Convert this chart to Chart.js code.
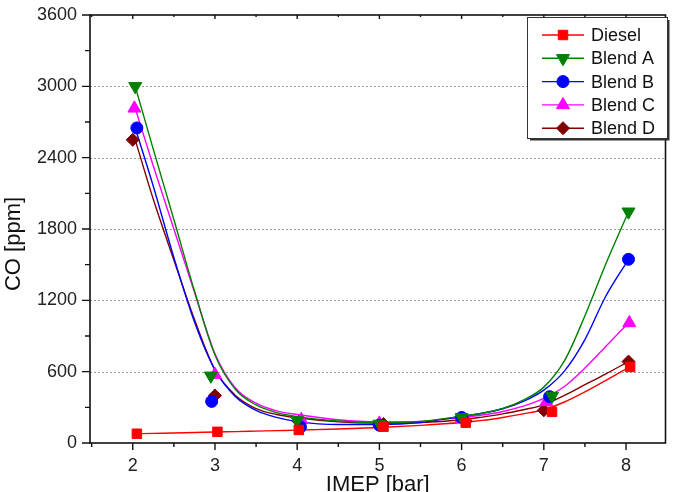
<!DOCTYPE html>
<html>
<head>
<meta charset="utf-8">
<script src="https://cdn.jsdelivr.net/npm/chart.js@4.4.0/dist/chart.umd.min.js"></script>
<style>
html,body{margin:0;padding:0;background:#fff;}
canvas{display:block;}
</style>
</head>
<body>
<canvas id="c" width="674" height="492" style="width:674px;height:492px"></canvas>
<script>
// ---- tick values ----
const xTicks = [2, 3, 4, 5, 6, 7, 8];
const yTicks = [0, 600, 1200, 1800, 2400, 3000, 3600];
const xMinorTicks = [1.5, 2.5, 3.5, 4.5, 5.5, 6.5, 7.5];
const yMinorTicks = [300, 900, 1500, 2100, 2700, 3300];
const gridValues = [600, 1200, 1800, 2400, 3000];

// ---- measured points (markers) ----
const seriesNames = ['Diesel', 'Blend A', 'Blend B', 'Blend C', 'Blend D'];
const dieselX = [2.05, 3.03, 4.02, 5.05, 6.05, 7.1, 8.05];
const dieselY = [78, 94, 110, 137, 171, 262, 640];
const blendAX = [2.03, 2.95, 4.0, 5.0, 6.0, 7.1, 8.03];
const blendAY = [3000, 565, 190, 160, 215, 395, 1945];
const blendBX = [2.05, 2.96, 4.04, 5.0, 6.0, 7.07, 8.03];
const blendBY = [2650, 350, 135, 150, 215, 390, 1545];
const blendCX = [2.02, 3.0, 4.05, 5.0, 6.0, 7.03, 8.04];
const blendCY = [2815, 575, 195, 165, 205, 345, 1010];
const blendDX = [2.0, 3.0, 4.02, 5.05, 6.05, 7.0, 8.03];
const blendDY = [2550, 400, 180, 160, 185, 275, 685];

// ---- fitted curves ----
const curveX      = [2.03, 2.25, 2.5, 2.75, 3.0, 3.25, 3.5, 3.75, 4.0, 4.5, 5.0, 5.5, 6.0, 6.25, 6.5, 6.75, 7.0, 7.25, 7.5, 7.75, 8.03];
const dieselCurve = [78, 81, 84, 88, 93, 96, 100, 104, 108, 118, 130, 148, 172, 190, 215, 245, 280, 345, 430, 525, 635];
const blendACurve = [3000, 2470, 1880, 1280, 740, 450, 320, 255, 222, 185, 172, 182, 225, 250, 290, 360, 470, 690, 1070, 1500, 1945];
const blendBCurve = [2650, 2160, 1560, 1020, 615, 390, 275, 215, 180, 155, 155, 172, 225, 250, 288, 350, 445, 605, 870, 1230, 1545];
const blendCCurve = [2815, 2330, 1800, 1270, 750, 460, 335, 270, 240, 195, 178, 182, 215, 235, 265, 310, 375, 475, 630, 810, 1010];
const blendDCurve = [2550, 2050, 1540, 1040, 615, 400, 290, 240, 212, 178, 168, 172, 195, 218, 245, 280, 320, 400, 490, 580, 685];

const FONT = '"Liberation Sans", Arial, sans-serif';
const colors = ['#ff0000', '#008000', '#0000ff', '#ff00ff', '#800000'];
const styles = ['rect', 'triangle', 'circle', 'triangle', 'rectRot'];
const rotations = [0, 180, 0, 0, 0];
const radii = [6.7, 7.5, 6, 7.5, 6.5];

const markerX = [dieselX, blendAX, blendBX, blendCX, blendDX];
const markerY = [dieselY, blendAY, blendBY, blendCY, blendDY];
const curves = [dieselCurve, blendACurve, blendBCurve, blendCCurve, blendDCurve];

const pts = (xs, ys) => xs.map((x, i) => ({x: x, y: ys[i]}));

const datasets = [];
for (let i = 0; i < 5; i++) {
  datasets.push({
    label: seriesNames[i] + ' fit',
    data: pts(curveX, curves[i]),
    showLine: true,
    borderColor: colors[i],
    borderWidth: 1.4,
    pointRadius: 0,
    fill: false,
    cubicInterpolationMode: 'monotone',
    order: 2
  });
}
for (let i = 0; i < 5; i++) {
  datasets.push({
    label: seriesNames[i],
    data: pts(markerX[i], markerY[i]),
    showLine: false,
    backgroundColor: colors[i],
    borderColor: colors[i],
    borderWidth: 1,
    pointStyle: styles[i],
    pointRotation: rotations[i],
    pointRadius: radii[i],
    order: 1
  });
}

function drawMarker(ctx, style, rot, r, x, y, color) {
  ctx.save();
  ctx.fillStyle = color; ctx.strokeStyle = color; ctx.lineWidth = 1;
  ctx.translate(x, y);
  ctx.rotate(rot * Math.PI / 180);
  ctx.beginPath();
  if (style === 'rect') {
    const s = r * Math.SQRT1_2; ctx.rect(-s, -s, 2 * s, 2 * s);
  } else if (style === 'circle') {
    ctx.arc(0, 0, r, 0, Math.PI * 2);
  } else if (style === 'triangle') {
    for (let k = 0; k < 3; k++) {
      const a = k * 2 * Math.PI / 3;
      const px = Math.sin(a) * r, py = -Math.cos(a) * r;
      if (k === 0) ctx.moveTo(px, py); else ctx.lineTo(px, py);
    }
    ctx.closePath();
  } else if (style === 'rectRot') {
    ctx.moveTo(0, -r); ctx.lineTo(r, 0); ctx.lineTo(0, r); ctx.lineTo(-r, 0); ctx.closePath();
  }
  ctx.fill(); ctx.stroke();
  ctx.restore();
}

const framePlugin = {
  id: 'frame',
  beforeDatasetsDraw(chart) {
    const {ctx, chartArea: a, scales: {y}} = chart;
    ctx.save();
    ctx.strokeStyle = '#9a9a9a';
    ctx.lineWidth = 1;
    ctx.setLineDash([2, 2]);
    gridValues.forEach(v => {
      const py = Math.round(y.getPixelForValue(v)) + 0.5;
      ctx.beginPath(); ctx.moveTo(a.left, py); ctx.lineTo(a.right, py); ctx.stroke();
    });
    ctx.restore();
  },
  afterDatasetsDraw(chart) {
    const {ctx, chartArea: a, scales: {x, y}} = chart;
    ctx.save();
    ctx.strokeStyle = '#111';
    ctx.lineWidth = 1.6;
    ctx.strokeRect(a.left, a.top, a.right - a.left, a.bottom - a.top);
    ctx.lineWidth = 1.4;
    ctx.beginPath();
    xTicks.forEach(v => { const px = x.getPixelForValue(v); ctx.moveTo(px, a.bottom); ctx.lineTo(px, a.bottom + 7); });
    xMinorTicks.forEach(v => { const px = x.getPixelForValue(v); ctx.moveTo(px, a.bottom); ctx.lineTo(px, a.bottom + 4); });
    xTicks.forEach(v => { const px = x.getPixelForValue(v); ctx.moveTo(px, a.top); ctx.lineTo(px, a.top + 4); });
    xMinorTicks.forEach(v => { const px = x.getPixelForValue(v); ctx.moveTo(px, a.top); ctx.lineTo(px, a.top + 2); });
    yTicks.forEach(v => { const py = y.getPixelForValue(v); ctx.moveTo(a.left, py); ctx.lineTo(a.left - 8, py); });
    yMinorTicks.forEach(v => { const py = y.getPixelForValue(v); ctx.moveTo(a.left, py); ctx.lineTo(a.left - 5, py); });
    ctx.stroke();
    ctx.restore();
  },
  afterDraw(chart) {
    const {ctx, chartArea: a} = chart;
    ctx.save();
    ctx.fillStyle = '#111';
    ctx.font = '22px ' + FONT;
    ctx.textAlign = 'center';
    ctx.textBaseline = 'alphabetic';
    ctx.fillText('IMEP [bar]', (a.left + a.right) / 2, 491);
    ctx.translate(20, 244);
    ctx.rotate(-Math.PI / 2);
    ctx.fillText('CO [ppm]', 0, 0);
    ctx.restore();

    // legend
    const lx = 527, ly = 17, lw = 140, lh = 121;
    ctx.save();
    ctx.fillStyle = '#fff';
    ctx.fillRect(lx, ly, lw, lh);
    ctx.strokeStyle = '#333';
    ctx.lineWidth = 1;
    ctx.strokeRect(lx + 0.5, ly + 0.5, lw, lh);
    ctx.lineWidth = 2;
    ctx.beginPath();
    ctx.moveTo(lx + lw + 1.5, ly + 3); ctx.lineTo(lx + lw + 1.5, ly + lh + 1.5); ctx.lineTo(lx + 3, ly + lh + 1.5);
    ctx.stroke();
    ctx.font = '18px ' + FONT;
    ctx.textAlign = 'left';
    ctx.textBaseline = 'middle';
    for (let i = 0; i < 5; i++) {
      const cy = 35 + i * 23.3;
      ctx.strokeStyle = colors[i];
      ctx.lineWidth = 1.4;
      ctx.beginPath(); ctx.moveTo(542, cy); ctx.lineTo(584, cy); ctx.stroke();
      drawMarker(ctx, styles[i], rotations[i], radii[i], 563, cy, colors[i]);
      ctx.fillStyle = '#111';
      ctx.fillText(seriesNames[i], 591, cy + 1);
    }
    ctx.restore();
  }
};

new Chart(document.getElementById('c'), {
  type: 'scatter',
  data: {datasets: datasets},
  options: {
    responsive: false,
    animation: false,
    events: [],
    layout: {padding: {left: 0, right: 5, top: 15, bottom: 0}},
    plugins: {legend: {display: false}, tooltip: {enabled: false}},
    scales: {
      x: {
        type: 'linear', min: 1.48, max: 8.48,
        grid: {display: false, drawTicks: false},
        border: {display: false},
        afterBuildTicks: s => { s.ticks = xTicks.map(v => ({value: v})); },
        afterFit: s => { s.height = 49; s.paddingLeft = 0; s.paddingRight = 0; },
        ticks: {font: {family: FONT, size: 18}, color: '#222', padding: 12, maxRotation: 0, autoSkip: false,
                callback: v => String(v)}
      },
      y: {
        type: 'linear', min: 0, max: 3600,
        grid: {display: false, drawTicks: false},
        border: {display: false},
        afterBuildTicks: s => { s.ticks = yTicks.map(v => ({value: v})); },
        afterFit: s => { s.width = 90; s.paddingTop = 0; s.paddingBottom = 0; },
        ticks: {font: {family: FONT, size: 18}, color: '#222', padding: 13, autoSkip: false,
                callback: v => String(v)}
      }
    }
  },
  plugins: [framePlugin]
});
</script>
</body>
</html>
